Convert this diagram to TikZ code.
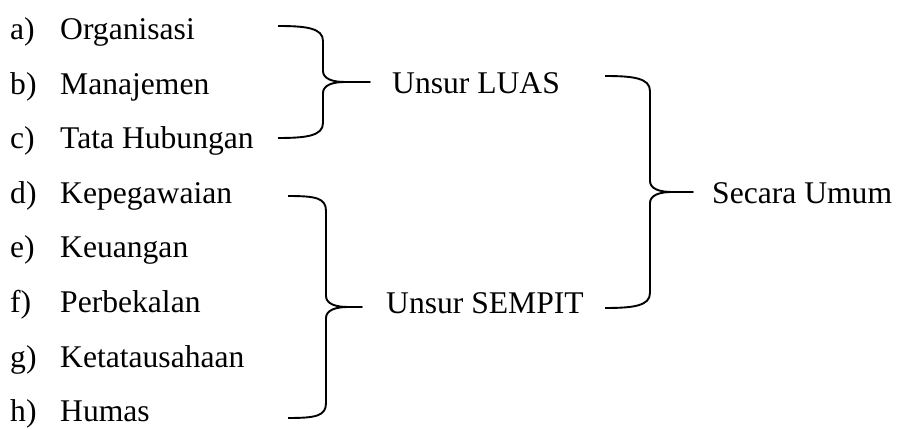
\documentclass[tikz,border=0pt]{standalone}
\usepackage{fontspec}
\setmainfont{Liberation Serif}
\begin{document}
\begin{tikzpicture}[x=1pt,y=-1pt,
  item/.style={anchor=base west,inner sep=0pt,font=\fontsize{31.6}{36}\selectfont},
  bracestyle/.style={line width=1.9pt,line join=round}]
\useasboundingbox (0,0) rectangle (897,430);
% left column
\foreach \lab/\txt [count=\i from 0] in {a)/Organisasi,b)/Manajemen,c)/Tata Hubungan,d)/Kepegawaian,e)/Keuangan,f)/Perbekalan,g)/Ketatausahaan,h)/Humas}{
  \node[item] (l\i) at (10,{39.5+54.6*\i}) {\lab};
  \node[item] (t\i) at (60,{39.5+54.6*\i}) {\txt};
}
\node[item] (luas) at (392,94) {Unsur LUAS};
\node[item] (sempit) at (386,313.5) {Unsur SEMPIT};
\node[item] (umum) at (712,204) {Secara Umum};
\newcommand{\mybrace}[6]{%
  \draw[bracestyle] (#1,#4) .. controls ({#1+28},#4) and (#2,{#4+2}) .. (#2,{#4+15})
    -- (#2,{#5-11}) .. controls (#2,{#5-3}) and ({#2+10},#5) .. ({#2+22},#5) -- (#3,#5)
    -- ({#2+22},#5) .. controls ({#2+10},#5) and (#2,{#5+3}) .. (#2,{#5+11})
    -- (#2,{#6-15}) .. controls (#2,{#6-2}) and ({#1+28},#6) .. (#1,#6);}
\mybrace{278}{323}{370}{26}{82}{138}
\mybrace{288}{326}{362}{196}{307}{418}
\mybrace{605}{650}{693}{76}{192}{308}
\end{tikzpicture}
\end{document}
